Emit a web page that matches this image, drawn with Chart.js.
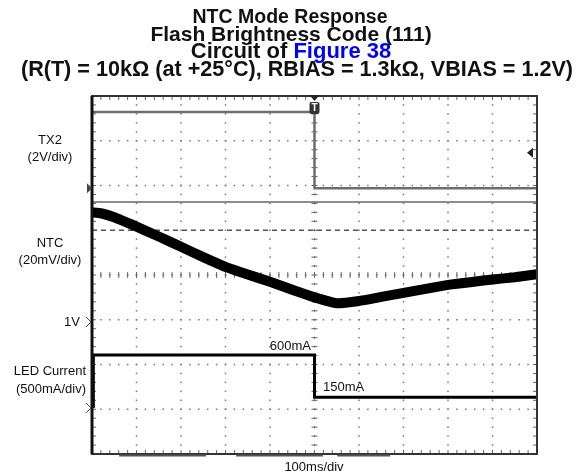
<!DOCTYPE html>
<html>
<head>
<meta charset="utf-8">
<script src="https://cdn.jsdelivr.net/npm/chart.js@4.4.1/dist/chart.umd.min.js"></script>
<style>
    html, body { margin: 0; padding: 0; background: #fff; }
    #wrap { position: relative; width: 579px; height: 472px; }
</style>
</head>
<body>
<div id="wrap"><canvas id="scope" width="579" height="472"></canvas></div>
<script>
// Screen is in divisions: x -5..5 (100ms/div, trigger at 0), y -4..4
const tx2X = [-5, 0, 0, 5];
const tx2Y = [3.64, 3.64, 1.94, 1.94];

const ntcX = [-5, -4.8, -4.5, -4, -3.5, -3, -2.5, -2, -1.5, -1, -0.5, 0, 0.5, 1, 1.5, 2, 2.5, 3, 3.5, 4, 4.5, 5];
const ntcY = [1.4, 1.38, 1.29, 1.08, 0.86, 0.63, 0.4, 0.18, 0.01, -0.15, -0.33, -0.5, -0.63, -0.58, -0.49, -0.4, -0.31, -0.22, -0.16, -0.1, -0.05, 0.02];

const ledX = [-4.97, -4.97, 0, 0, 5];
const ledY = [-2.97, -1.79, -1.79, -2.73, -2.73];

const gridX = [-4, -3, -2, -1, 1, 2, 3, 4];
const gridY = [-3, -2, -1, 2, 3];

const bottomBars = [[-4.39, -2.44], [-1.76, 0.19], [0.51, 1.7]];

const titleLines = ['NTC Mode Response', 'Flash Brightness Code (111)', 'Circuit of ', '(R(T) = 10k\u03a9 (at +25\u00b0C), RBIAS = 1.3k\u03a9, VBIAS = 1.2V)'];

const FONT = '"Liberation Sans", Arial, sans-serif';

function pts(xs, ys) {
    return xs.map((x, i) => ({ x: x, y: ys[i] }));
}

const scopeGrid = {
    id: 'scopeGrid',
    beforeDatasetsDraw(chart) {
        const { ctx, chartArea: a, scales } = chart;
        const px = v => scales.x.getPixelForValue(v);
        const py = v => scales.y.getPixelForValue(v);
        ctx.save();
        ctx.fillStyle = '#777';
        // dotted graticule
        gridX.forEach(gx => {
            for (let j = -20; j <= 20; j++) ctx.fillRect(px(gx) - 0.75, py(j / 5) - 0.75, 1.5, 1.5);
        });
        gridY.forEach(gy => {
            for (let i = -25; i <= 25; i++) ctx.fillRect(px(i / 5) - 0.75, py(gy) - 0.75, 1.5, 1.5);
        });
        // dashed line at +1 div
        ctx.strokeStyle = '#555';
        ctx.lineWidth = 1.5;
        ctx.setLineDash([5, 4]);
        ctx.beginPath();
        ctx.moveTo(a.left, py(1));
        ctx.lineTo(a.right, py(1));
        ctx.stroke();
        ctx.setLineDash([]);
        // solid separator
        ctx.strokeStyle = '#666';
        ctx.beginPath();
        ctx.moveTo(a.left, py(1.63));
        ctx.lineTo(a.right, py(1.63));
        ctx.stroke();
        // center axes with minor ticks
        ctx.fillStyle = '#666';
        for (let j = -20; j <= 20; j++) {
            const y = py(j / 5);
            ctx.fillRect(px(0) - 3, y - 0.5, 6, 1);
            ctx.fillRect(px(0) - 0.5, y - 1, 1, 2);
            ctx.fillRect(a.left, y - 0.5, 4, 1);
            ctx.fillRect(a.right - 4, y - 0.5, 4, 1);
        }
        for (let i = -25; i <= 25; i++) {
            const x = px(i / 5);
            ctx.fillRect(x - 0.5, py(0) - 3, 1, 6);
            ctx.fillRect(x - 1, py(0) - 0.5, 2, 1);
            ctx.fillRect(x - 0.5, a.top, 1, 4);
            ctx.fillRect(x - 0.5, a.bottom - 4, 1, 4);
        }
        ctx.restore();
    },
    afterDatasetsDraw(chart) {
        const { ctx, chartArea: a, scales } = chart;
        const px = v => scales.x.getPixelForValue(v);
        const py = v => scales.y.getPixelForValue(v);
        ctx.save();
        // frame
        ctx.strokeStyle = '#333';
        ctx.lineWidth = 2;
        ctx.strokeRect(a.left, a.top, a.right - a.left, a.bottom - a.top);
        ctx.fillStyle = '#111';
        ctx.fillRect(a.left - 1.5, a.top, 3, a.bottom - a.top);
        // bottom bars
        ctx.fillStyle = '#555';
        bottomBars.forEach(b => ctx.fillRect(px(b[0]), a.bottom + 0.5, px(b[1]) - px(b[0]), 2));

        // ground markers
        ctx.fillStyle = '#444';
        const gy = py(tx2Y[2]);
        ctx.beginPath();
        ctx.moveTo(a.left - 5, gy - 5);
        ctx.lineTo(a.left, gy);
        ctx.lineTo(a.left - 5, gy + 5);
        ctx.closePath();
        ctx.fill();
        ctx.strokeStyle = '#444';
        ctx.lineWidth = 1;
        [-1.05, ledY[0]].forEach(v => {
            const y = py(v);
            ctx.beginPath();
            ctx.moveTo(a.left - 6, y - 5);
            ctx.lineTo(a.left - 1, y);
            ctx.lineTo(a.left - 6, y + 5);
            ctx.stroke();
        });
        // trigger level arrow
        ctx.fillStyle = '#222';
        const ty = py(2.73);
        ctx.beginPath();
        ctx.moveTo(a.right - 10, ty);
        ctx.lineTo(a.right - 4, ty - 5);
        ctx.lineTo(a.right - 4, ty + 5);
        ctx.closePath();
        ctx.fill();
        // trigger position marker
        const tx = px(0);
        ctx.beginPath();
        ctx.moveTo(tx - 5, a.top - 1);
        ctx.lineTo(tx + 5, a.top - 1);
        ctx.lineTo(tx, a.top + 5);
        ctx.closePath();
        ctx.fill();
        ctx.fillStyle = '#333';
        ctx.beginPath();
        ctx.roundRect(tx - 5, a.top + 6, 10, 12, 2);
        ctx.fill();
        ctx.fillStyle = '#fff';
        ctx.font = 'bold 10px ' + FONT;
        ctx.textAlign = 'center';
        ctx.textBaseline = 'middle';
        ctx.fillText('T', tx, a.top + 12);

        // channel labels
        ctx.fillStyle = '#111';
        ctx.font = '13px ' + FONT;
        ctx.fillText('TX2', 50, 140);
        ctx.fillText('(2V/div)', 50, 157);
        ctx.fillText('NTC', 50, 243);
        ctx.fillText('(20mV/div)', 50, 260);
        ctx.textAlign = 'right';
        ctx.fillText('1V', 80, 322);
        ctx.fillText('LED Current', 86, 371);
        ctx.fillText('(500mA/div)', 86, 389);
        ctx.fillText('600mA', 311, 346);
        ctx.textAlign = 'left';
        ctx.fillText('150mA', 323, 387);
        ctx.textAlign = 'center';
        ctx.fillText('100ms/div', 314, 467);

        // title
        ctx.font = 'bold 19.5px ' + FONT;
        ctx.fillText(titleLines[0], 290, 18);
        ctx.font = 'bold 21px ' + FONT;
        ctx.fillText(titleLines[1], 291, 35);
        ctx.font = 'bold 22px ' + FONT;
        const w1 = ctx.measureText(titleLines[2]).width;
        const w2 = ctx.measureText('Figure 38').width;
        const sx = 291 - (w1 + w2) / 2;
        ctx.textAlign = 'left';
        ctx.fillText(titleLines[2], sx, 52);
        ctx.fillStyle = '#0000ff';
        ctx.fillText('Figure 38', sx + w1, 52);
        ctx.fillStyle = '#111';
        ctx.textAlign = 'center';
        ctx.font = 'bold 21.6px ' + FONT;
        ctx.fillText(titleLines[3], 297, 70);
        ctx.restore();
    }
};

new Chart(document.getElementById('scope'), {
    type: 'scatter',
    data: {
        datasets: [
            { label: 'NTC', data: pts(ntcX, ntcY), showLine: true, borderColor: '#000', borderWidth: 10, pointRadius: 0, tension: 0.1 },
            { label: 'TX2', data: pts(tx2X, tx2Y), showLine: true, borderColor: '#6e6e6e', borderWidth: 2.5, pointRadius: 0 },
            { label: 'LED Current', data: pts(ledX, ledY), showLine: true, borderColor: '#000', borderWidth: 3, pointRadius: 0 }
        ]
    },
    options: {
        responsive: false,
        animation: false,
        layout: { padding: { left: 92, right: 42, top: 96, bottom: 18 } },
        plugins: { legend: { display: false }, tooltip: { enabled: false }, title: { display: false } },
        scales: {
            x: { type: 'linear', min: -5, max: 5, display: false },
            y: { type: 'linear', min: -4, max: 4, display: false }
        }
    },
    plugins: [scopeGrid]
});
</script>
</body>
</html>
